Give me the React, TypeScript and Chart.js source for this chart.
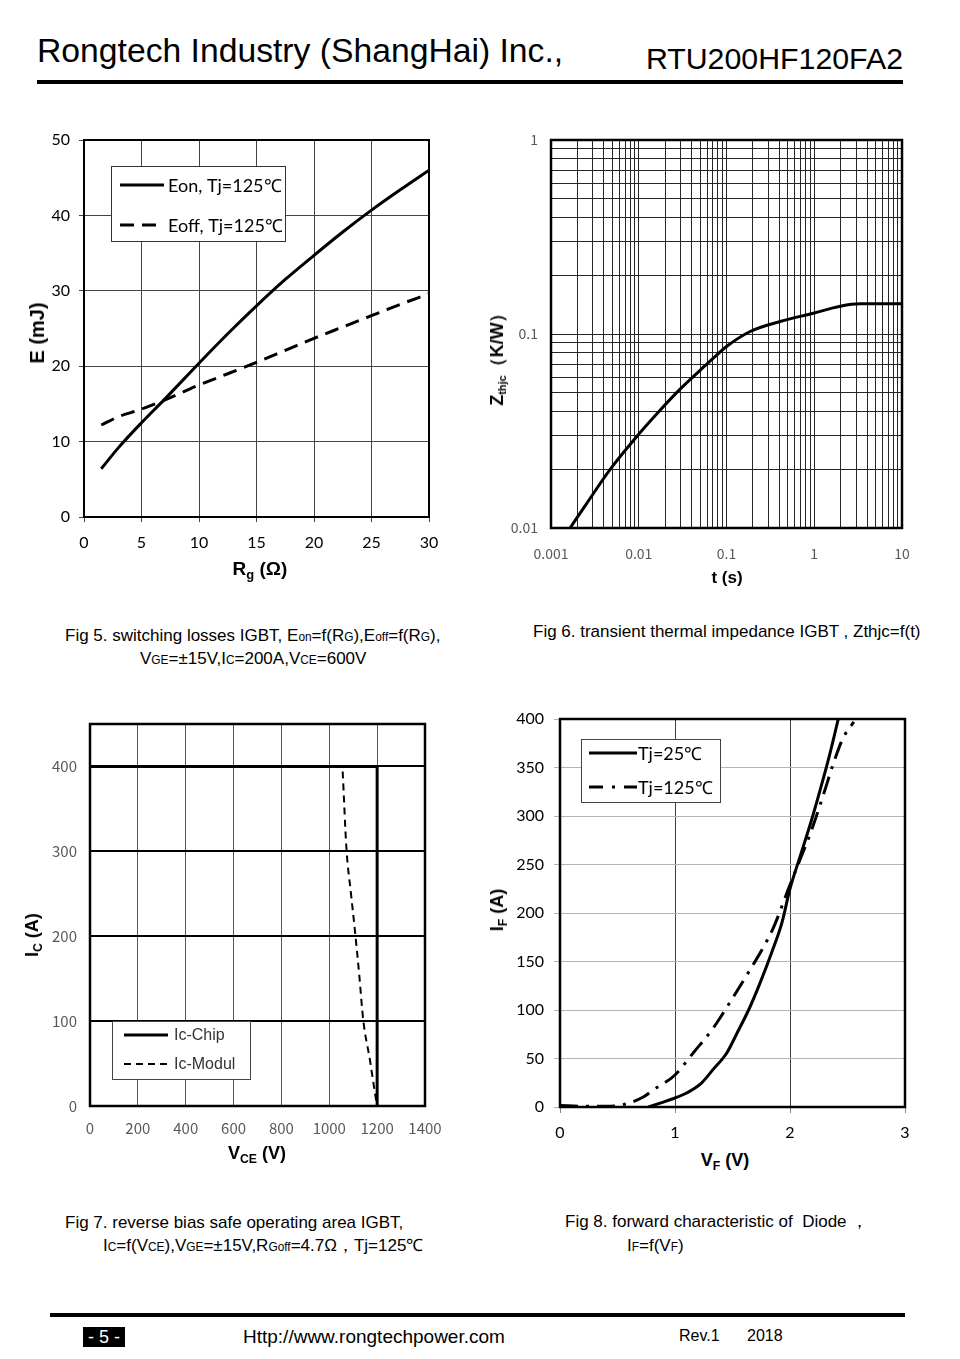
import React, { useEffect, useRef } from 'react';
import { Chart, registerables } from 'chart.js';

Chart.register(...registerables);

// ---------------- Fig 5: switching losses ----------------
const fig5Rg = [1.5, 3, 5, 7, 10, 12.5, 15, 17.5, 20, 22.5, 25, 27.5, 30];
const fig5Eon = [6.4, 9.2, 12.5, 15.6, 20.4, 24.3, 28.0, 31.5, 34.7, 37.8, 40.7, 43.4, 46.0];
const fig5Eoff = [12.2, 13.3, 14.3, 15.5, 17.5, 19.0, 20.5, 22.1, 23.7, 25.2, 26.7, 28.2, 29.6];
const fig5Legend = ['Eon, Tj=125℃', 'Eoff, Tj=125℃'];

// ---------------- Fig 6: transient thermal impedance ----------------
const fig6T = [0.00165, 0.0025, 0.0047, 0.0099, 0.0175, 0.0296, 0.05, 0.075, 0.101, 0.186, 0.41, 0.98, 1.98, 3.35, 10];
const fig6Z = [0.01, 0.0132, 0.02, 0.0303, 0.0405, 0.052, 0.065, 0.077, 0.0865, 0.103, 0.116, 0.128, 0.139, 0.143, 0.143];
const logMultipliers = [1, 2, 3, 4, 5, 6, 7, 8, 9];
const fig6XDecades = [0.001, 0.01, 0.1, 1, 10];
const fig6XLabels = ['0.001', '0.01', '0.1', '1', '10'];
const fig6YDecades = [0.01, 0.1, 1];
const fig6YLabels = ['0.01', '0.1', '1'];

// ---------------- Fig 7: RBSOA ----------------
const fig7ChipV = [0, 1200, 1200];
const fig7ChipI = [400, 400, 0];
const fig7ModulV = [1056, 1072, 1090, 1107, 1125, 1142, 1170, 1191, 1200];
const fig7ModulI = [394, 302, 252, 207, 155, 101, 54, 15, 0];
const fig7Legend = ['Ic-Chip', 'Ic-Modul'];

// ---------------- Fig 8: diode forward ----------------
const fig8V25 = [0.77, 0.87, 1.0, 1.1, 1.23, 1.33, 1.45, 1.54, 1.64, 1.74, 1.84, 1.93, 2.0, 2.09, 2.18, 2.26, 2.34, 2.42];
const fig8I25 = [0, 4, 9.3, 14.4, 24.7, 38.5, 55.7, 76.3, 100, 128, 159, 190, 225, 259, 293, 326, 361, 400];
const fig8V125 = [0.0, 0.2, 0.4, 0.55, 0.72, 0.81, 1.0, 1.16, 1.33, 1.51, 1.65, 1.77, 1.86, 1.99, 2.09, 2.18, 2.28, 2.38, 2.46, 2.555];
const fig8I125 = [1.5, 0.8, 0.8, 2.4, 10, 17.5, 33, 56, 81, 114, 141, 165, 186, 226, 256, 283, 318, 355, 380, 397];
const fig8Legend = ['Tj=25℃', 'Tj=125℃'];

type Box = { L: number; T: number; W: number; H: number; yw: number; tp: number; rp: number; xh: number };

const pts = (xs: number[], ys: number[]) => xs.map((x, i) => ({ x, y: ys[i] }));

const framePlugin = (lw: number) => ({
  id: 'frame',
  afterDatasetsDraw(chart: any) {
    const { ctx, chartArea } = chart;
    const { left, top, right, bottom } = chartArea;
    ctx.save();
    ctx.strokeStyle = '#000';
    ctx.lineWidth = lw;
    ctx.setLineDash([]);
    ctx.strokeRect(left, top, right - left, bottom - top);
    ctx.restore();
  },
});

type LegendCfg = {
  x: number; y: number; w: number; h: number;
  lineX0: number; lineX1: number; textX: number;
  rows: number[]; labels: string[]; dashes: number[][]; widths: number[];
  font: string; color: string; border: string;
};

const legendPlugin = (cfg: LegendCfg) => ({
  id: 'boxLegend',
  afterDraw(chart: any) {
    const { ctx, chartArea } = chart;
    const { left, top } = chartArea;
    ctx.save();
    ctx.fillStyle = '#fff';
    ctx.fillRect(left + cfg.x, top + cfg.y, cfg.w, cfg.h);
    ctx.strokeStyle = cfg.border;
    ctx.lineWidth = 1;
    ctx.strokeRect(left + cfg.x + 0.5, top + cfg.y + 0.5, cfg.w, cfg.h);
    cfg.labels.forEach((lab, i) => {
      const y = top + cfg.rows[i];
      ctx.beginPath();
      ctx.setLineDash(cfg.dashes[i]);
      ctx.lineWidth = cfg.widths[i];
      ctx.strokeStyle = '#000';
      ctx.moveTo(left + cfg.lineX0, y);
      ctx.lineTo(left + cfg.lineX1, y);
      ctx.stroke();
      ctx.setLineDash([]);
      ctx.fillStyle = cfg.color;
      ctx.font = cfg.font;
      ctx.textBaseline = 'middle';
      ctx.textAlign = 'left';
      ctx.fillText(lab, left + cfg.textX, y + 1);
    });
    ctx.restore();
  },
});

const baseOptions = (box: Box) => ({
  responsive: false,
  animation: false,
  events: [],
  layout: { padding: { left: 0, top: box.tp, right: box.rp, bottom: 0 } },
  plugins: { legend: { display: false }, tooltip: { enabled: false } },
});

function ChartCanvas({ box, make }: { box: Box; make: () => any }) {
  const ref = useRef<HTMLCanvasElement>(null);
  useEffect(() => {
    const chart = new Chart(ref.current as HTMLCanvasElement, make());
    return () => chart.destroy();
  }, []);
  const w = box.yw + box.W + box.rp;
  const h = box.tp + box.H + box.xh;
  return (
    <canvas
      ref={ref}
      width={w}
      height={h}
      style={{ position: 'absolute', left: box.L - box.yw, top: box.T - box.tp, width: w, height: h }}
    />
  );
}

const box5: Box = { L: 84, T: 140, W: 345, H: 377, yw: 64, tp: 30, rp: 40, xh: 44 };
const box6: Box = { L: 551, T: 140, W: 351, H: 388, yw: 71, tp: 30, rp: 40, xh: 40 };
const box7: Box = { L: 90, T: 724, W: 335, H: 382, yw: 70, tp: 30, rp: 45, xh: 40 };
const box8: Box = { L: 560, T: 719, W: 345, H: 388, yw: 80, tp: 30, rp: 40, xh: 40 };

const lineDs = (label: string, data: any[], width: number, dash: number[], smooth: boolean) => ({
  label,
  data,
  borderColor: '#000',
  backgroundColor: '#000',
  borderWidth: width,
  borderDash: dash,
  pointRadius: 0,
  fill: false,
  tension: smooth ? 0.4 : 0,
  cubicInterpolationMode: smooth ? 'monotone' : 'default',
});

const plainNum = (v: any) => String(v);

const make5 = () => ({
  type: 'line',
  data: {
    datasets: [
      lineDs(fig5Legend[0], pts(fig5Rg, fig5Eon), 3, [], true),
      lineDs(fig5Legend[1], pts(fig5Rg, fig5Eoff), 3, [14, 8], true),
    ],
  },
  options: {
    ...baseOptions(box5),
    scales: {
      x: {
        type: 'linear', min: 0, max: 30,
        ticks: { stepSize: 5, font: { family: 'Lato', size: 16 }, color: '#000', padding: 11, maxRotation: 0, autoSkip: false, callback: plainNum },
        grid: { color: '#444', lineWidth: 1, tickLength: 5, tickColor: '#444' },
        border: { display: false },
        afterFit: (s: any) => { s.height = box5.xh; },
      },
      y: {
        type: 'linear', min: 0, max: 50,
        ticks: { stepSize: 10, font: { family: 'Lato', size: 16 }, color: '#000', padding: 9, autoSkip: false, callback: plainNum },
        grid: { color: '#444', lineWidth: 1, tickLength: 5, tickColor: '#444' },
        border: { display: false },
        afterFit: (s: any) => { s.width = box5.yw; },
      },
    },
  },
  plugins: [
    framePlugin(2),
    legendPlugin({
      x: 27, y: 26, w: 174, h: 75, lineX0: 36, lineX1: 80, textX: 84,
      rows: [45, 85], labels: fig5Legend, dashes: [[], [14, 8]], widths: [3, 3],
      font: '18px Lato', color: '#000', border: '#333',
    }),
  ],
});

const logTicks = (decades: number[]) => {
  const out: { value: number }[] = [];
  decades.forEach((d, i) => {
    if (i === decades.length - 1) out.push({ value: d });
    else logMultipliers.forEach((m) => out.push({ value: d * m }));
  });
  return out;
};

const logLabel = (values: number[], labels: string[]) => (v: any) => {
  const n = Number(v);
  const idx = values.findIndex((d) => Math.abs(n / d - 1) < 1e-6);
  return idx >= 0 ? labels[idx] : '';
};

const make6 = () => ({
  type: 'line',
  data: { datasets: [lineDs('Zthjc', pts(fig6T, fig6Z), 3, [], true)] },
  options: {
    ...baseOptions(box6),
    scales: {
      x: {
        type: 'logarithmic', min: 0.001, max: 10,
        afterBuildTicks: (s: any) => { s.ticks = logTicks(fig6XDecades); },
        ticks: { font: { family: '"Noto Sans CJK SC"', size: 14 }, color: '#595959', padding: 17, maxRotation: 0, autoSkip: false, callback: logLabel(fig6XDecades, fig6XLabels) },
        grid: { color: '#262626', lineWidth: 1, drawTicks: false },
        border: { display: false },
        afterFit: (s: any) => { s.height = box6.xh; },
      },
      y: {
        type: 'logarithmic', min: 0.01, max: 1,
        afterBuildTicks: (s: any) => { s.ticks = logTicks(fig6YDecades); },
        ticks: { font: { family: '"Noto Sans CJK SC"', size: 14 }, color: '#595959', padding: 13, autoSkip: false, callback: logLabel(fig6YDecades, fig6YLabels) },
        grid: { color: '#262626', lineWidth: 1, drawTicks: false },
        border: { display: false },
        afterFit: (s: any) => { s.width = box6.yw; },
      },
    },
  },
  plugins: [framePlugin(2.5)],
});

const make7 = () => ({
  type: 'line',
  data: {
    datasets: [
      lineDs(fig7Legend[0], pts(fig7ChipV, fig7ChipI), 3, [], false),
      lineDs(fig7Legend[1], pts(fig7ModulV, fig7ModulI), 2, [7, 5], true),
    ],
  },
  options: {
    ...baseOptions(box7),
    scales: {
      x: {
        type: 'linear', min: 0, max: 1400,
        ticks: { stepSize: 200, font: { family: '"Noto Sans CJK SC"', size: 15 }, color: '#595959', padding: 13, maxRotation: 0, autoSkip: false, callback: plainNum },
        grid: { color: '#555', lineWidth: 1, drawTicks: false },
        border: { display: false },
        afterFit: (s: any) => { s.height = box7.xh; },
      },
      y: {
        type: 'linear', min: 0, max: 450,
        ticks: { stepSize: 100, includeBounds: false, font: { family: '"Noto Sans CJK SC"', size: 15 }, color: '#595959', padding: 13, autoSkip: false, callback: plainNum },
        grid: { color: '#000', lineWidth: 2, drawTicks: false },
        border: { display: false },
        afterFit: (s: any) => { s.width = box7.yw; },
      },
    },
  },
  plugins: [
    framePlugin(2.5),
    legendPlugin({
      x: 22, y: 297, w: 138, h: 58, lineX0: 34, lineX1: 78, textX: 84,
      rows: [311, 340], labels: fig7Legend, dashes: [[], [7, 5]], widths: [3, 2],
      font: '16px "Liberation Sans"', color: '#333', border: '#444',
    }),
  ],
});

const make8 = () => ({
  type: 'line',
  data: {
    datasets: [
      lineDs(fig8Legend[0], pts(fig8V25, fig8I25), 3, [], true),
      lineDs(fig8Legend[1], pts(fig8V125, fig8I125), 3, [18, 8, 3, 8], true),
    ],
  },
  options: {
    ...baseOptions(box8),
    scales: {
      x: {
        type: 'linear', min: 0, max: 3,
        ticks: { stepSize: 1, font: { family: 'Lato', size: 16 }, color: '#000', padding: 10, maxRotation: 0, autoSkip: false, callback: plainNum },
        grid: { color: '#404040', lineWidth: 1, tickLength: 6, tickColor: '#888' },
        border: { display: false },
        afterFit: (s: any) => { s.height = box8.xh; },
      },
      y: {
        type: 'linear', min: 0, max: 400,
        ticks: { stepSize: 50, font: { family: 'Lato', size: 16 }, color: '#000', padding: 10, autoSkip: false, callback: plainNum },
        grid: { color: '#b4b4b4', lineWidth: 1, tickLength: 6, tickColor: '#b4b4b4' },
        border: { display: false },
        afterFit: (s: any) => { s.width = box8.yw; },
      },
    },
  },
  plugins: [
    framePlugin(2.5),
    legendPlugin({
      x: 21, y: 20, w: 139, h: 63, lineX0: 29, lineX1: 77, textX: 78,
      rows: [34, 68], labels: fig8Legend, dashes: [[], [14, 9, 3, 9]], widths: [3, 3],
      font: '18px Lato', color: '#000', border: '#444',
    }),
  ],
});

const abs = (left: number, top: number, size: number, extra: React.CSSProperties = {}): React.CSSProperties => ({
  position: 'absolute', left, top, fontSize: size, lineHeight: 1, whiteSpace: 'nowrap', ...extra,
});

const Sm = ({ children }: { children: React.ReactNode }) => <span style={{ fontSize: '0.7em' }}>{children}</span>;
const Sub = ({ children, s = '0.68em' }: { children: React.ReactNode; s?: string }) => (
  <span style={{ fontSize: s, position: 'relative', top: '0.3em' }}>{children}</span>
);

const Title = ({ cx, cy, size, rotate, children }: { cx: number; cy: number; size: number; rotate?: boolean; children: React.ReactNode }) => (
  <div
    style={{
      position: 'absolute', left: cx, top: cy, fontSize: size, lineHeight: 1, fontWeight: 'bold', whiteSpace: 'nowrap',
      transform: `translate(-50%, -50%)${rotate ? ' rotate(-90deg)' : ''}`,
      fontFamily: '"Liberation Sans", Arial, sans-serif',
    }}
  >
    {children}
  </div>
);

export default function App() {
  const cap = 17;
  const ct = (cy: number) => cy - 0.49 * cap;
  return (
    <div style={{ position: 'absolute', left: 0, top: 0, width: 960, height: 1359, background: '#fff', overflow: 'hidden', fontFamily: '"Liberation Sans", Arial, sans-serif', color: '#000' }}>
      {/* header */}
      <div style={abs(37, 33.6, 33.7)}>Rongtech Industry (ShangHai) Inc.,</div>
      <div style={{ ...abs(0, 44, 30.3), left: undefined, right: 57 }}>RTU200HF120FA2</div>
      <div style={{ position: 'absolute', left: 37, top: 80, width: 866, height: 4, background: '#000' }} />

      <ChartCanvas box={box5} make={make5} />
      <ChartCanvas box={box6} make={make6} />
      <ChartCanvas box={box7} make={make7} />
      <ChartCanvas box={box8} make={make8} />

      {/* axis titles */}
      <Title cx={37} cy={333} size={20} rotate>E (mJ)</Title>
      <Title cx={260} cy={568} size={19}>R<Sub>g</Sub> (Ω)</Title>
      <Title cx={497} cy={355} size={18} rotate>Z<Sub s="0.6em">thjc</Sub>（K/W）</Title>
      <Title cx={727} cy={577} size={17}>t (s)</Title>
      <Title cx={32} cy={935} size={18} rotate>I<Sub>C</Sub> (A)</Title>
      <Title cx={257} cy={1153} size={18}>V<Sub>CE</Sub> (V)</Title>
      <Title cx={497} cy={910} size={18} rotate>I<Sub>F</Sub> (A)</Title>
      <Title cx={725} cy={1160} size={18}>V<Sub>F</Sub> (V)</Title>

      {/* captions */}
      <div style={abs(65, ct(635), cap)}>Fig 5. switching losses IGBT, E<Sm>on</Sm>=f(R<Sm>G</Sm>),E<Sm>off</Sm>=f(R<Sm>G</Sm>),</div>
      <div style={abs(140, ct(658), cap)}>V<Sm>GE</Sm>=±15V,I<Sm>C</Sm>=200A,V<Sm>CE</Sm>=600V</div>
      <div style={abs(533, ct(631), cap)}>Fig 6. transient thermal impedance IGBT , Zthjc=f(t)</div>
      <div style={abs(65, ct(1222), cap)}>Fig 7. reverse bias safe operating area IGBT,</div>
      <div style={abs(103, ct(1245), cap)}>I<Sm>C</Sm>=f(V<Sm>CE</Sm>),V<Sm>GE</Sm>=±15V,R<Sm>Goff</Sm>=4.7Ω，Tj=125℃</div>
      <div style={abs(565, ct(1221), cap)}>Fig 8. forward characteristic of&nbsp; Diode ，</div>
      <div style={abs(627, ct(1245), cap)}>I<Sm>F</Sm>=f(V<Sm>F</Sm>)</div>

      {/* footer */}
      <div style={{ position: 'absolute', left: 50, top: 1313, width: 855, height: 4, background: '#000' }} />
      <div style={{ ...abs(83, 1327, 18), width: 42, height: 20, background: '#000', color: '#fff', textAlign: 'center', lineHeight: '20px' }}>- 5 -</div>
      <div style={abs(243, 1327, 19)}>Http://www.rongtechpower.com</div>
      <div style={abs(679, 1328, 16)}>Rev.1</div>
      <div style={abs(747, 1328, 16)}>2018</div>
    </div>
  );
}
